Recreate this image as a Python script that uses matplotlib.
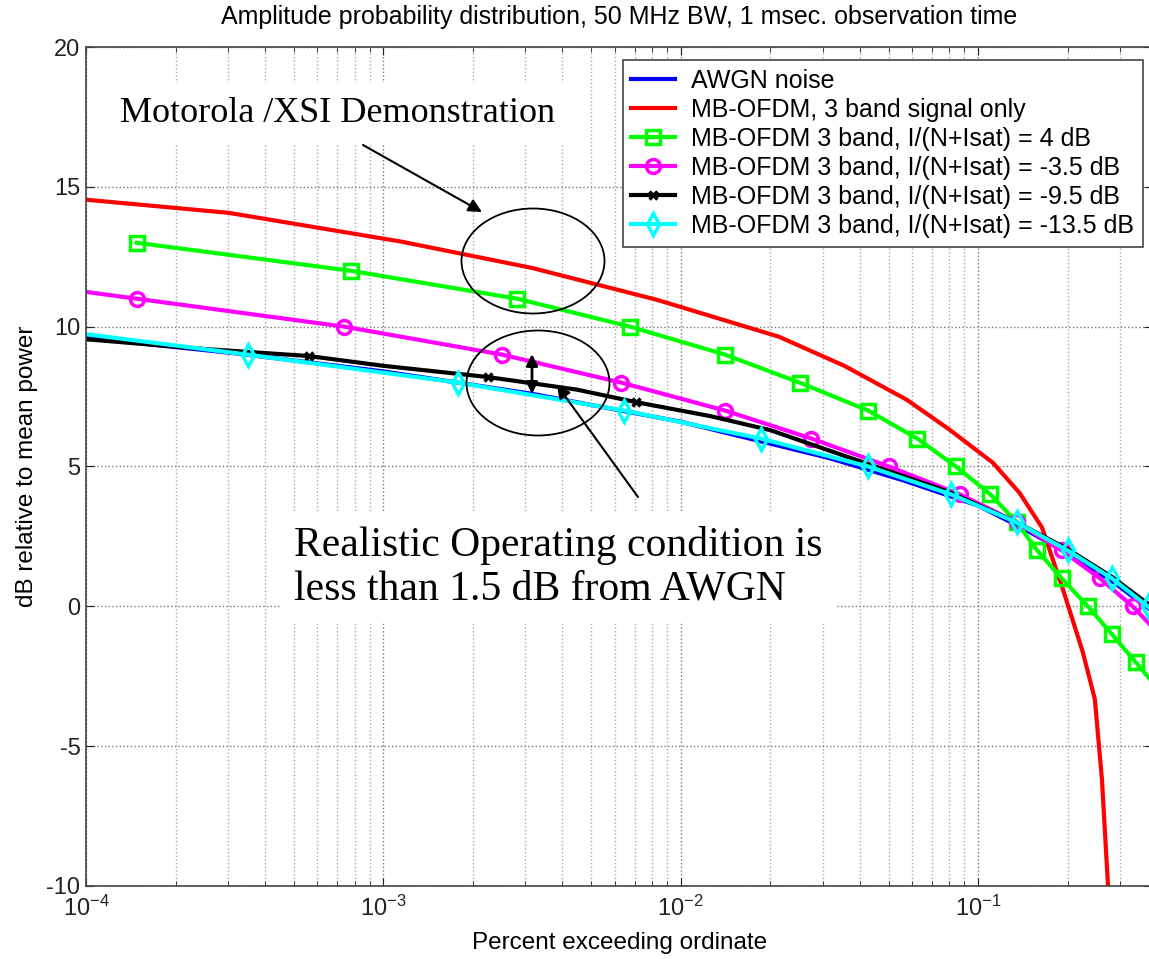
import matplotlib
matplotlib.use("Agg")
import matplotlib.pyplot as plt
from matplotlib.patches import Ellipse, FancyArrowPatch

# --- data ---
awgn_x = [1e-4, 3.16e-4, 1e-3, 3.16e-3, 1e-2, 3.16e-2, 0.0562, 0.1, 0.141, 0.2, 0.282, 0.372, 0.40]
awgn_db = [9.6, 9.05, 8.4, 7.6, 6.6, 5.3, 4.5, 3.6, 2.8, 1.9, 0.9, -0.05, -0.3]

sig_x = [1e-4, 3.02e-4, 1.15e-3, 3.16e-3, 8.32e-3, 0.0214, 0.0355, 0.0575, 0.0794,
         0.112, 0.138, 0.164, 0.193, 0.225, 0.247, 0.261, 0.2735, 0.279]
sig_db = [14.54, 14.07, 13.04, 12.1, 10.96, 9.64, 8.6, 7.39, 6.35,
          5.14, 4.05, 2.82, 0.6, -1.64, -3.32, -6.2, -10.0, -14.0]

i4_x = [1.48e-4, 7.76e-4, 2.82e-3, 6.76e-3, 0.0141, 0.0251, 0.0427, 0.0624, 0.0843,
        0.110, 0.135, 0.158, 0.191, 0.234, 0.282, 0.339, 0.407]
i4_db = [13, 12, 11, 10, 9, 8, 7, 6, 5, 4, 3, 2, 1, 0, -1, -2, -3]

i35_x = [2.95e-5, 1.48e-4, 7.4e-4, 2.51e-3, 6.31e-3, 0.0141, 0.0275, 0.0501, 0.0871,
         0.135, 0.191, 0.257, 0.331, 0.407]
i35_db = [12, 11, 10, 9, 8, 7, 6, 5, 4, 3, 2, 1, 0, -1]

i95_x = [1e-4, 2.51e-4, 5.62e-4, 1e-3, 2.24e-3, 4.47e-3, 7.08e-3, 0.0126, 0.02,
         0.0398, 0.0794, 0.135, 0.2, 0.282, 0.372]
i95_db = [9.55, 9.2, 8.95, 8.6, 8.2, 7.75, 7.3, 6.8, 6.3, 5.2, 4.1, 3.0, 2.05, 1.05, 0.1]

i135_x = [6.3e-5, 3.5e-4, 1.78e-3, 6.46e-3, 0.0186, 0.0427, 0.0813, 0.135, 0.2, 0.282, 0.372, 0.468]
i135_db = [10, 9, 8, 7, 6, 5, 4, 3, 2, 1, 0, -1]

labels = ["AWGN noise", "MB-OFDM, 3 band signal only",
          "MB-OFDM 3 band, I/(N+Isat) = 4 dB", "MB-OFDM 3 band, I/(N+Isat) = -3.5 dB",
          "MB-OFDM 3 band, I/(N+Isat) = -9.5 dB", "MB-OFDM 3 band, I/(N+Isat) = -13.5 dB"]

W, H = 1149, 959
def px(x, y): return (x / W, 1 - y / H)

plt.rcParams['font.family'] = ['Liberation Sans', 'DejaVu Sans']
plt.rcParams['mathtext.default'] = 'regular'
plt.rcParams['axes.unicode_minus'] = False

fig = plt.figure(figsize=(W / 100, H / 100), dpi=100)
x0, x1, y0, y1 = 86, 1152, 47, 886
ax = fig.add_axes([x0 / W, 1 - y1 / H, (x1 - x0) / W, (y1 - y0) / H])

lw = 3
ax.semilogx(awgn_x, awgn_db, color='#0000ff', lw=lw, label=labels[0])
ax.semilogx(sig_x, sig_db, color='#ff0000', lw=lw, label=labels[1])
ax.semilogx(i4_x, i4_db, color='#00ff00', lw=lw, marker='s', ms=10, mfc='none', mew=2.5, label=labels[2])
ax.semilogx(i35_x, i35_db, color='#ff00ff', lw=lw, marker='o', ms=10, mfc='none', mew=2.5, label=labels[3])
ax.semilogx(i95_x, i95_db, color='black', lw=lw, marker='x', ms=6, mew=2.5,
            markevery=[2, 4, 6], label=labels[4])
ax.semilogx(i135_x, i135_db, color='#00ffff', lw=lw, marker='d', ms=11, mfc='none', mew=2.5, label=labels[5])

ax.set_xlim(1e-4, 10 ** (-1 + (x1 - 978) / 297.5))
ax.set_ylim(-10, 20)
ax.set_yticks([-10, -5, 0, 5, 10, 15, 20])
ax.grid(True, which='major', ls=':', color='#777777', lw=1)
ax.grid(True, which='minor', axis='x', ls=':', color='#aaaaaa', lw=1)
ax.tick_params(which='both', direction='in', top=True, right=True, labelsize=17, colors='#222222')
ax.tick_params(which='major', length=6)
ax.tick_params(which='minor', length=3.5)
ax.tick_params(axis='y', pad=4)
ax.tick_params(axis='x', pad=7)
for s in ax.spines.values():
    s.set_color('#444444'); s.set_linewidth(1.2)

leg = ax.legend(loc='upper right', bbox_to_anchor=px(1143, 60), bbox_transform=fig.transFigure,
                borderaxespad=0, fontsize=18, handlelength=1.75, handletextpad=0.65,
                labelspacing=0.2, borderpad=0.35, fancybox=False, framealpha=1)
leg.get_frame().set_edgecolor('#444444'); leg.get_frame().set_linewidth(1.2)

fig.text(*px(619, 17), "Amplitude probability distribution, 50 MHz BW, 1 msec. observation time",
         ha='center', va='center', fontsize=18)
fig.text(*px(620, 943), "Percent exceeding ordinate", ha='center', va='center', fontsize=17.5)
fig.text(*px(27, 466), "dB relative to mean power", ha='center', va='center', rotation=90, fontsize=17.5)

serif = ['Liberation Serif', 'DejaVu Serif']
box = dict(fc='white', ec='none', pad=10)
fig.text(*px(120, 122), "Motorola /XSI Demonstration", family=serif, fontsize=26,
         ha='left', va='baseline', bbox=box, zorder=5)
fig.text(*px(294, 600), "Realistic Operating condition is\nless than 1.5 dB from AWGN", family=serif,
         fontsize=30, ha='left', va='baseline', linespacing=1.18, bbox=box, zorder=5)

for cx, cy in [(533, 261), (538, 383)]:
    fig.add_artist(Ellipse(px(cx, cy), 143 / W, 105 / H, transform=fig.transFigure,
                           fill=False, ec='black', lw=1.3, zorder=6))

arrow = dict(arrowstyle='-|>', color='black', lw=1.5, mutation_scale=20, shrinkA=0, shrinkB=0)
fig.add_artist(FancyArrowPatch(px(363, 145), px(482, 212), transform=fig.transFigure, zorder=6, **arrow))
fig.add_artist(FancyArrowPatch(px(638, 497), px(557, 385), transform=fig.transFigure, zorder=6, **arrow))
dbl = dict(arrow, arrowstyle='<|-|>', mutation_scale=17, lw=2)
fig.add_artist(FancyArrowPatch(px(532, 354), px(532, 394), transform=fig.transFigure, zorder=6, **dbl))

fig.savefig("out.png", dpi=100)
